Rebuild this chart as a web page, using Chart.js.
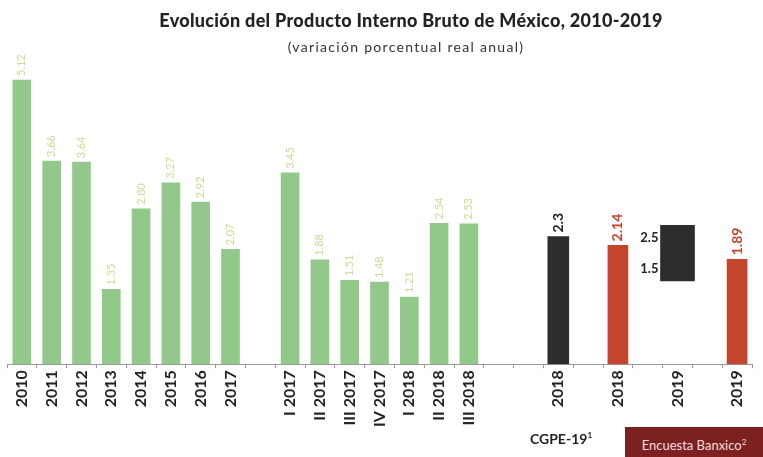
<!DOCTYPE html>
<html>
<head>
<meta charset="utf-8">
<script src="https://cdn.jsdelivr.net/npm/chart.js@4.4.1/dist/chart.umd.min.js"></script>
<style>
  html, body { margin: 0; padding: 0; background: #fff; }
  #wrap { position: relative; width: 763px; height: 457px; font-family: Lato, 'Open Sans', sans-serif; }
  #title { position: absolute; left: 0; width: 822px; top: 9px; text-align: center; font-weight: 900; font-size: 18px; letter-spacing: 0.3px; color: #222; }
  #subtitle { position: absolute; left: 0; width: 812px; top: 38px; text-align: center; font-size: 14px; letter-spacing: 1.3px; color: #333; }
  #cgpe { position: absolute; left: 530px; top: 430px; font-weight: bold; font-size: 14px; color: #222; }
  #banxico { position: absolute; left: 625px; top: 427px; width: 138px; height: 30px; background: #7d2020; color: #f6dede; font-size: 13px; line-height: 30px; text-align: center; }
  canvas { position: absolute; left: 0; top: 0; }
</style>
</head>
<body>
<div id="wrap">
  <canvas id="chart" width="763" height="457"></canvas>
  <div id="title">Evolución del Producto Interno Bruto de México, 2010-2019</div>
  <div id="subtitle">(variación porcentual real anual)</div>
  <div id="cgpe">CGPE-19<sup style="font-size:8px">1</sup></div>
  <div id="banxico">Encuesta Banxico<sup style="font-size:8px">2</sup></div>
</div>
<script>
// Category labels (blank entries are spacing slots)
const categories = [
  '2010', '2011', '2012', '2013', '2014', '2015', '2016', '2017', '',
  'I 2017', 'II 2017', 'III 2017', 'IV 2017', 'I 2018', 'II 2018', 'III 2018', '', '',
  '2018', '', '2018', '', '2019', '', '2019'
];

// Observed growth (green)
const observed = [
  5.12, 3.66, 3.64, 1.35, 2.80, 3.27, 2.92, 2.07, null,
  3.45, 1.88, 1.51, 1.48, 1.21, 2.54, 2.53, null, null,
  null, null, null, null, null, null, null
];

// CGPE-19 point estimate and range
const cgpePoint = [
  null, null, null, null, null, null, null, null, null,
  null, null, null, null, null, null, null, null, null,
  2.3, null, null, null, null, null, null
];
const cgpeRange = [
  null, null, null, null, null, null, null, null, null,
  null, null, null, null, null, null, null, null, null,
  null, null, null, null, [1.5, 2.5], null, null
];

// Encuesta Banxico
const banxico = [
  null, null, null, null, null, null, null, null, null,
  null, null, null, null, null, null, null, null, null,
  null, null, 2.14, null, null, null, 1.89
];

const COLORS = {
  green: '#93c88b',
  greenLabel: '#cbdb93',
  dark: '#2d2d2d',
  red: '#c4452c'
};

const valueLabels = {
  id: 'valueLabels',
  afterDatasetsDraw(chart) {
    const ctx = chart.ctx;
    chart.data.datasets.forEach((ds, i) => {
      const meta = chart.getDatasetMeta(i);
      meta.data.forEach((bar, j) => {
        const v = ds.data[j];
        if (v === null || v === undefined) return;
        ctx.save();
        if (Array.isArray(v)) {
          ctx.font = 'bold 13px Lato, sans-serif';
          ctx.fillStyle = '#222';
          ctx.textAlign = 'right';
          ctx.textBaseline = 'middle';
          const left = bar.x - bar.width / 2 - 2;
          ctx.fillText(v[1].toFixed(1), left, bar.y + 12);
          ctx.fillText(v[0].toFixed(1), left, bar.base - 12);
        } else {
          ctx.translate(bar.x, bar.y - 4);
          ctx.rotate(-Math.PI / 2);
          ctx.textAlign = 'left';
          ctx.textBaseline = 'middle';
          if (ds.labelStyle === 'light') {
            ctx.font = '11px Lato, sans-serif';
            ctx.fillStyle = COLORS.greenLabel;
            ctx.fillText(v.toFixed(2), 0, 0);
          } else {
            ctx.font = 'bold 14px Lato, sans-serif';
            ctx.fillStyle = ds.labelColor;
            ctx.fillText(ds.labelDigits ? v.toFixed(ds.labelDigits) : String(v), 0, 0);
          }
        }
        ctx.restore();
      });
    });
  }
};

new Chart(document.getElementById('chart'), {
  type: 'bar',
  data: {
    labels: categories,
    datasets: [
      { label: 'Observado', data: observed, backgroundColor: COLORS.green, barThickness: 18, grouped: false, labelStyle: 'light' },
      { label: 'CGPE-19', data: cgpePoint, backgroundColor: COLORS.dark, barThickness: 21, grouped: false, labelColor: '#222' },
      { label: 'CGPE-19 rango', data: cgpeRange, backgroundColor: COLORS.dark, barThickness: 34, grouped: false },
      { label: 'Encuesta Banxico', data: banxico, backgroundColor: COLORS.red, barThickness: 20, grouped: false, labelColor: COLORS.red, labelDigits: 2 }
    ]
  },
  options: {
    responsive: false,
    animation: false,
    layout: { padding: { top: 59, left: 7, right: 11, bottom: 28 } },
    plugins: {
      legend: { display: false },
      tooltip: { enabled: false }
    },
    scales: {
      x: {
        grid: { display: true, drawOnChartArea: false, drawTicks: true, tickLength: 4, color: '#999', offset: true },
        border: { color: '#999' },
        ticks: {
          minRotation: 90,
          maxRotation: 90,
          autoSkip: false,
          padding: 2,
          color: '#222',
          font: { family: 'Lato, sans-serif', size: 16, weight: 'bold' }
        }
      },
      y: {
        display: false,
        min: 0,
        max: 5.5
      }
    }
  },
  plugins: [valueLabels]
});
</script>
</body>
</html>
